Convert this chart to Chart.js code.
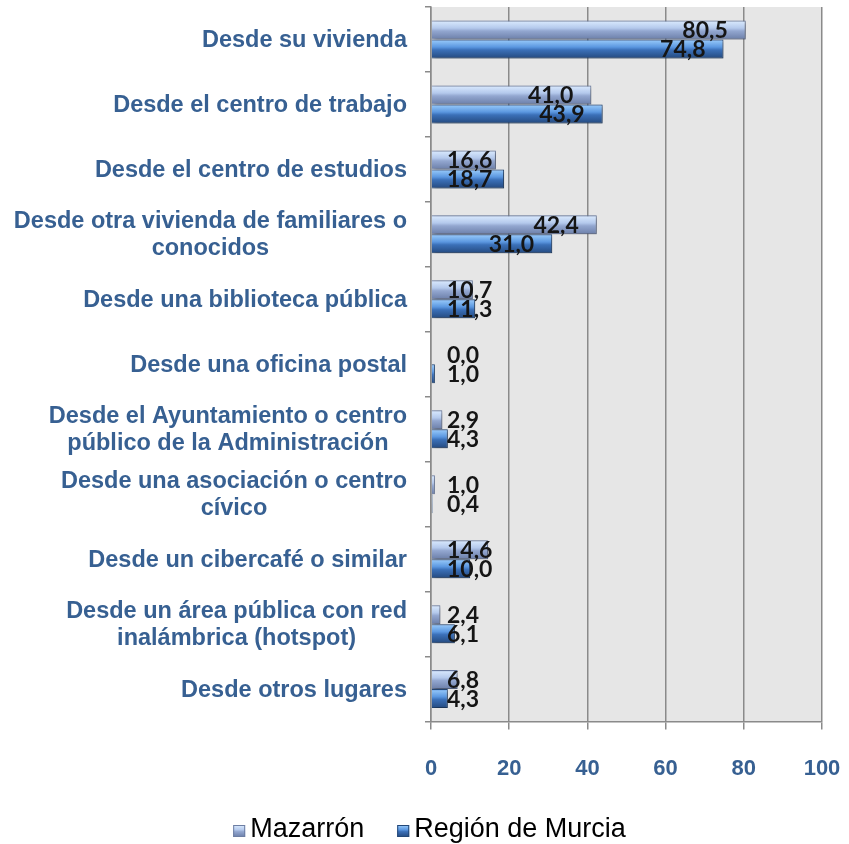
<!DOCTYPE html>
<html>
<head>
<meta charset="utf-8">
<script src="https://cdn.jsdelivr.net/npm/chart.js@4"></script>
<style>
  html, body { margin: 0; padding: 0; background: #fff; }
  #wrap { width: 849px; height: 844px; }
</style>
</head>
<body>
<div id="wrap"><canvas id="chart" width="849" height="844"></canvas></div>
<script>
// Data
const categories = [
  ["Desde su vivienda"],
  ["Desde el centro de trabajo"],
  ["Desde el centro de estudios"],
  ["Desde otra vivienda de familiares o", "conocidos"],
  ["Desde una biblioteca pública"],
  ["Desde una oficina postal"],
  ["Desde el Ayuntamiento o centro", "público de la Administración"],
  ["Desde una asociación o centro", "cívico"],
  ["Desde un cibercafé o similar"],
  ["Desde un área pública con red", "inalámbrica (hotspot)"],
  ["Desde otros lugares"]
];
const mazarron = [80.5, 41.0, 16.6, 42.4, 10.7, 0.0, 2.9, 1.0, 14.6, 2.4, 6.8];
const murcia = [74.8, 43.9, 18.7, 31.0, 11.3, 1.0, 4.3, 0.4, 10.0, 6.1, 4.3];
const seriesNames = ["Mazarrón", "Región de Murcia"];
const xTicks = [0, 20, 40, 60, 80, 100];

const CAT_PCT = 0.585;
const labelBlue = "#376092";
const gridGray = "#8a8a8a";

const mazStops = [[0, "#98acd2"], [0.1, "#d2e3fa"], [0.4, "#b4c9ec"], [0.55, "#93a7d0"], [1, "#6b7ea8"]];
const murStops = [[0, "#5a8fd8"], [0.1, "#8cc0f5"], [0.4, "#5b97e0"], [0.55, "#3b70b8"], [1, "#24497e"]];

function makeGradient(ctx, stops, top, h) {
  const g = ctx.createLinearGradient(0, top, 0, top + h);
  stops.forEach(s => g.addColorStop(s[0], s[1]));
  return g;
}

// vertical gradient for each bar (Excel-like bevel look)
function barFill(stops, dsIndex, flat) {
  return (c) => {
    const chart = c.chart;
    const y = chart.scales.y;
    if (!chart.chartArea || c.dataIndex === undefined || !y) return flat;
    const center = y.getPixelForValue(c.dataIndex);
    const band = (y.bottom - y.top) / categories.length;
    const thick = band * CAT_PCT / 2;
    const top = dsIndex === 0 ? center - thick : center;
    return makeGradient(chart.ctx, stops, top, thick);
  };
}

// grey plot background
const plotBg = {
  id: "plotBg",
  beforeDraw(chart) {
    const a = chart.chartArea;
    const ctx = chart.ctx;
    ctx.save();
    ctx.fillStyle = "#e6e6e6";
    ctx.fillRect(a.left, a.top, a.right - a.left, a.bottom - a.top);
    ctx.restore();
  }
};

// soft shadow under the bars
const barShadow = {
  id: "barShadow",
  beforeDatasetDraw(chart) {
    const ctx = chart.ctx;
    ctx.save();
    ctx.shadowColor = "rgba(0,0,0,0.35)";
    ctx.shadowBlur = 4;
    ctx.shadowOffsetX = 2;
    ctx.shadowOffsetY = 2;
  },
  afterDatasetDraw(chart) {
    chart.ctx.restore();
  }
};

// category labels: right aligned block, lines centred inside it
const catLabels = {
  id: "catLabels",
  afterDraw(chart) {
    const ctx = chart.ctx;
    const y = chart.scales.y;
    ctx.save();
    ctx.font = "bold 23.5px 'Liberation Sans', Arial, sans-serif";
    ctx.fillStyle = labelBlue;
    ctx.textAlign = "center";
    ctx.textBaseline = "middle";
    const lineH = 27;
    categories.forEach((lines, i) => {
      const cy = y.getPixelForValue(i) + 1;
      const w = Math.max(...lines.map(l => ctx.measureText(l).width));
      const cx = 407 - w / 2;
      const y0 = cy - (lines.length - 1) * lineH / 2;
      lines.forEach((l, j) => ctx.fillText(l, cx, y0 + j * lineH));
    });
    ctx.restore();
  }
};

// value labels near the bar ends
const valueLabels = {
  id: "valueLabels",
  afterDatasetsDraw(chart) {
    const ctx = chart.ctx;
    const minLeft = chart.chartArea.left + 16;
    ctx.save();
    ctx.font = "bold 23px Lato, 'Open Sans', sans-serif";
    ctx.fillStyle = "#151515";
    ctx.textAlign = "left";
    ctx.textBaseline = "middle";
    chart.data.datasets.forEach((ds, di) => {
      const meta = chart.getDatasetMeta(di);
      meta.data.forEach((bar, i) => {
        const txt = ds.data[i].toFixed(1).replace(".", ",");
        const w = ctx.measureText(txt).width;
        const left = Math.max(bar.x - 18 - w, minLeft);
        ctx.fillText(txt, left, bar.y + 1);
      });
    });
    ctx.restore();
  }
};

// legend drawn by hand so box/text gaps match the original
const customLegend = {
  id: "customLegend",
  afterDraw(chart) {
    const ctx = chart.ctx;
    const box = 12, gap = 5, between = 33, cy = 830;
    const stops = [mazStops, murStops];
    const borders = ["#6d7ea3", "#234777"];
    ctx.save();
    ctx.font = "27px 'Liberation Sans', Arial, sans-serif";
    ctx.textBaseline = "middle";
    ctx.textAlign = "left";
    const widths = chart.data.datasets.map(d => ctx.measureText(d.label).width);
    const total = widths.reduce((s, w) => s + box + gap + w, 0) + between * (widths.length - 1);
    let x = 429.5 - total / 2;
    chart.data.datasets.forEach((d, i) => {
      const top = cy - box / 2 + 1;
      ctx.fillStyle = makeGradient(ctx, stops[i], top, box);
      ctx.fillRect(x, top, box, box);
      ctx.strokeStyle = borders[i];
      ctx.lineWidth = 1;
      ctx.strokeRect(x + 0.5, top + 0.5, box - 1, box - 1);
      ctx.fillStyle = "#000";
      ctx.fillText(d.label, x + box + gap, cy);
      x += box + gap + widths[i] + between;
    });
    ctx.restore();
  }
};

new Chart(document.getElementById("chart"), {
  type: "bar",
  data: {
    labels: categories,
    datasets: [
      {
        label: seriesNames[0],
        data: mazarron,
        backgroundColor: barFill(mazStops, 0, "#a7badf"),
        borderColor: "#6d7ea3",
        borderWidth: c => (c.raw > 0 ? 1 : 0),
        borderSkipped: "start",
        categoryPercentage: CAT_PCT,
        barPercentage: 1
      },
      {
        label: seriesNames[1],
        data: murcia,
        backgroundColor: barFill(murStops, 1, "#4a80c8"),
        borderColor: "#234777",
        borderWidth: c => (c.raw > 0 ? 1 : 0),
        borderSkipped: "start",
        categoryPercentage: CAT_PCT,
        barPercentage: 1
      }
    ]
  },
  options: {
    indexAxis: "y",
    responsive: false,
    animation: false,
    layout: { padding: { left: 0, right: 0, top: 7, bottom: 36 } },
    scales: {
      x: {
        min: 0,
        max: 100,
        afterBuildTicks: s => { s.ticks = xTicks.map(v => ({ value: v })); },
        ticks: {
          color: labelBlue,
          font: { family: "'Liberation Sans', Arial, sans-serif", size: 22, weight: "bold" },
          padding: 26
        },
        grid: { color: gridGray, lineWidth: 1.5, tickLength: 8 },
        border: { color: gridGray, width: 1.5 },
        afterFit: s => { s.paddingRight = 27; s.paddingLeft = 0; }
      },
      y: {
        grid: { offset: true, drawOnChartArea: false, color: gridGray, lineWidth: 1.5, tickLength: 6 },
        border: { color: gridGray, width: 1.5 },
        ticks: { display: false },
        afterFit: s => { s.width = 431; }
      }
    },
    plugins: {
      legend: { display: false },
      tooltip: { enabled: false }
    }
  },
  plugins: [plotBg, barShadow, catLabels, valueLabels, customLegend]
});
</script>
</body>
</html>
